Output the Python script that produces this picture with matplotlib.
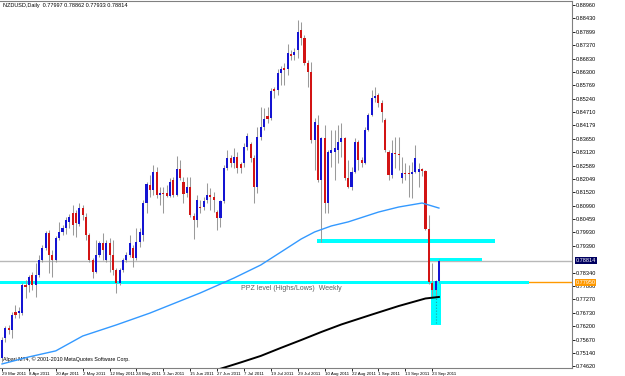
# NZDUSD daily chart (MT4 style) with PPZ zones and two moving averages

import numpy as np
import matplotlib.pyplot as plt
from matplotlib.patches import Rectangle
import matplotlib.transforms as mtransforms

plt.rcParams['font.family'] = ['Liberation Sans', 'DejaVu Sans']

# --- 1. Data ---

# date labels on the time axis (every 8th bar)
date_labels = ['29 Mar 2011', '8 Apr 2011', '20 Apr 2011', '2 May 2011', '12 May 2011',
               '24 May 2011', '3 Jun 2011', '15 Jun 2011', '27 Jun 2011', '7 Jul 2011',
               '19 Jul 2011', '29 Jul 2011', '10 Aug 2011', '22 Aug 2011', '1 Sep 2011',
               '13 Sep 2011', '23 Sep 2011']
date_bars = [0, 8, 16, 24, 32, 40, 48, 56, 64, 72, 80, 88, 96, 104, 112, 120, 128]

opens = [0.7495, 0.7574, 0.7614, 0.7606, 0.7677, 0.7673, 0.7673, 0.7785, 0.7785, 0.7824,
         0.7785, 0.7824, 0.7884, 0.7931, 0.7991, 0.7904, 0.7884, 0.7971, 0.7995, 0.8011,
         0.8035, 0.8070, 0.8070, 0.8027, 0.8090, 0.8054, 0.7983, 0.7884, 0.7836, 0.7904,
         0.7951, 0.7884, 0.7951, 0.7904, 0.7844, 0.7793, 0.7844, 0.7884, 0.7904, 0.7931,
         0.7892, 0.7955, 0.7983, 0.8110, 0.8182, 0.8162, 0.8233, 0.8142, 0.8150, 0.8150,
         0.8138, 0.8201, 0.8142, 0.8245, 0.8194, 0.8150, 0.8174, 0.8058, 0.8043, 0.8094,
         0.8094, 0.8122, 0.8142, 0.8134, 0.8074, 0.8050, 0.8118, 0.8249, 0.8289, 0.8269,
         0.8293, 0.8265, 0.8269, 0.8332, 0.8344, 0.8289, 0.8174, 0.8372, 0.8412, 0.8455,
         0.8448, 0.8563, 0.8559, 0.8626, 0.8646, 0.8642, 0.8702, 0.8698, 0.8718, 0.8797,
         0.8765, 0.8666, 0.8630, 0.8360, 0.8420, 0.8201, 0.8368, 0.8110, 0.8309, 0.8313,
         0.8321, 0.8352, 0.8368, 0.8209, 0.8174, 0.8233, 0.8352, 0.8281, 0.8269, 0.8400,
         0.8459, 0.8527, 0.8539, 0.8507, 0.8440, 0.8313, 0.8221, 0.8309, 0.8305, 0.8209,
         0.8229, 0.8229, 0.8225, 0.8233, 0.8233, 0.8245, 0.8237, 0.8007, 0.7793, 0.7765,
         0.77997]
highs = [0.7578, 0.7622, 0.7626, 0.7677, 0.7705, 0.7697, 0.7793, 0.7804, 0.7824, 0.7836,
         0.7872, 0.7904, 0.7943, 0.7999, 0.8003, 0.7924, 0.7979, 0.8035, 0.8023, 0.8054,
         0.8066, 0.8102, 0.8082, 0.8110, 0.8102, 0.8070, 0.7991, 0.7892, 0.7963, 0.7959,
         0.7991, 0.7963, 0.7971, 0.7963, 0.7852, 0.7852, 0.7892, 0.7916, 0.7983, 0.7943,
         0.8011, 0.8011, 0.8122, 0.8194, 0.8221, 0.8261, 0.8253, 0.8174, 0.8174, 0.8182,
         0.8209, 0.8213, 0.8297, 0.8281, 0.8213, 0.8213, 0.8213, 0.8070, 0.8142, 0.8122,
         0.8134, 0.8190, 0.8170, 0.8154, 0.8082, 0.8122, 0.8261, 0.8321, 0.8301, 0.8328,
         0.8313, 0.8273, 0.8348, 0.8388, 0.8352, 0.8301, 0.8412, 0.8491, 0.8487, 0.8491,
         0.8567, 0.8571, 0.8642, 0.8654, 0.8666, 0.8741, 0.8718, 0.8725, 0.8837, 0.8829,
         0.8777, 0.8678, 0.8670, 0.8448, 0.8459, 0.8372, 0.8420, 0.8321, 0.8400, 0.8400,
         0.8420, 0.8428, 0.8372, 0.8281, 0.8253, 0.8368, 0.8360, 0.8293, 0.8412, 0.8467,
         0.8559, 0.8571, 0.8547, 0.8519, 0.8448, 0.8321, 0.8360, 0.8372, 0.8372, 0.8293,
         0.8269, 0.8261, 0.8273, 0.8340, 0.8269, 0.8249, 0.8241, 0.8062, 0.7872, 0.7804,
         0.78862]
lows = [0.7479, 0.7558, 0.7590, 0.7574, 0.7653, 0.7653, 0.7665, 0.7733, 0.7757, 0.7765,
        0.7737, 0.7816, 0.7876, 0.7924, 0.7832, 0.7816, 0.7876, 0.7963, 0.7983, 0.7987,
        0.8011, 0.7983, 0.7975, 0.8019, 0.8043, 0.7963, 0.7876, 0.7812, 0.7832, 0.7896,
        0.7884, 0.7876, 0.7836, 0.7824, 0.7753, 0.7785, 0.7836, 0.7876, 0.7896, 0.7856,
        0.7884, 0.7935, 0.7959, 0.8070, 0.8134, 0.8142, 0.8130, 0.8102, 0.8070, 0.8134,
        0.8134, 0.8134, 0.8138, 0.8201, 0.8110, 0.8134, 0.8054, 0.7967, 0.8015, 0.8070,
        0.8082, 0.8110, 0.8082, 0.8074, 0.8003, 0.8015, 0.8110, 0.8241, 0.8253, 0.8249,
        0.8229, 0.8229, 0.8253, 0.8321, 0.8273, 0.8110, 0.8150, 0.8360, 0.8400, 0.8428,
        0.8440, 0.8527, 0.8539, 0.8579, 0.8579, 0.8618, 0.8678, 0.8678, 0.8686, 0.8737,
        0.8658, 0.8571, 0.8348, 0.8241, 0.8194, 0.7955, 0.8070, 0.8070, 0.8253, 0.8201,
        0.8269, 0.8293, 0.8201, 0.8170, 0.8162, 0.8229, 0.8241, 0.8253, 0.8265, 0.8396,
        0.8455, 0.8511, 0.8491, 0.8432, 0.8313, 0.8201, 0.8209, 0.8249, 0.8241, 0.8190,
        0.8201, 0.8134, 0.8130, 0.8229, 0.8174, 0.8217, 0.8003, 0.7789, 0.7737, 0.7741,
        0.77933]
closes = [0.7566, 0.7614, 0.7606, 0.7665, 0.7665, 0.7681, 0.7785, 0.7777, 0.7816, 0.7785,
          0.7824, 0.7884, 0.7931, 0.7991, 0.7904, 0.7884, 0.7971, 0.7995, 0.8011, 0.8043,
          0.8054, 0.8023, 0.8031, 0.8090, 0.8062, 0.7983, 0.7884, 0.7836, 0.7904, 0.7951,
          0.7924, 0.7951, 0.7904, 0.7844, 0.7793, 0.7844, 0.7884, 0.7904, 0.7951, 0.7892,
          0.7955, 0.7995, 0.8110, 0.8186, 0.8162, 0.8233, 0.8142, 0.8150, 0.8146, 0.8138,
          0.8194, 0.8142, 0.8245, 0.8209, 0.8146, 0.8174, 0.8062, 0.8043, 0.8122, 0.8090,
          0.8118, 0.8142, 0.8134, 0.8122, 0.8050, 0.8118, 0.8249, 0.8289, 0.8269, 0.8293,
          0.8249, 0.8249, 0.8332, 0.8376, 0.8289, 0.8174, 0.8372, 0.8412, 0.8444, 0.8444,
          0.8555, 0.8555, 0.8626, 0.8642, 0.8638, 0.8706, 0.8694, 0.8710, 0.8789, 0.8765,
          0.8666, 0.8630, 0.8360, 0.8432, 0.8201, 0.8368, 0.8110, 0.8313, 0.8321, 0.8328,
          0.8352, 0.8368, 0.8209, 0.8174, 0.8233, 0.8352, 0.8281, 0.8269, 0.8400, 0.8459,
          0.8527, 0.8535, 0.8507, 0.8471, 0.8321, 0.8221, 0.8309, 0.8305, 0.8301, 0.8229,
          0.8225, 0.8225, 0.8233, 0.8289, 0.8245, 0.8237, 0.8007, 0.7797, 0.7765, 0.7800,
          0.78814]

# moving averages at a few bars
ma_blue_bars = [0, 8, 16, 24, 34, 44, 59, 69, 77, 84, 89, 93, 98, 103, 112, 118, 125, 130]
ma_blue = [0.7471, 0.7499, 0.7523, 0.7582, 0.7626, 0.7673, 0.7753, 0.7812, 0.7864,
           0.7924, 0.7967, 0.7995, 0.8019, 0.8035, 0.8074, 0.8094, 0.8110, 0.8090]
ma_black_bars = [58, 65, 71, 77, 83, 89, 95, 101, 110, 118, 126, 130]
ma_black = [0.7433, 0.7452, 0.7477, 0.7503, 0.7535, 0.7566, 0.7598, 0.7628, 0.7667,
            0.7701, 0.7731, 0.7737]

# price axis labels
price_ticks = [0.88960, 0.88430, 0.87899, 0.87370, 0.86830, 0.86300, 0.85769, 0.85240,
               0.84710, 0.84179, 0.83650, 0.83120, 0.82589, 0.82049, 0.81520, 0.80990,
               0.80459, 0.79930, 0.79390, 0.78340, 0.77800, 0.77270, 0.76730, 0.76200,
               0.75670, 0.75140, 0.74620]

last_price = 0.78814
ppz_level = 0.77950

# zones drawn on the chart: (first bar, last bar, low price, high price)
zone_bars_start = [-1, 93.7, 127.4, 127.7]
zone_bars_end = [156.8, 146.7, 142.9, 130.7]
zone_low = [0.7787, 0.7951, 0.7880, 0.7626]
zone_high = [0.7802, 0.7967, 0.7891, 0.7793]

# --- 2. Figure ---

fig = plt.figure(figsize=(6.25, 3.76), dpi=100)
ax = fig.add_axes([0.0, 8 / 376, 572 / 625, 367 / 376])
ax.set_xlim(-0.6, 169.6)
ax.set_ylim(0.7455, 0.8912)

# horizontal lines and zones (background)
ax.axhline(ppz_level, color='#ff9900', lw=1.0, zorder=1)
ax.axhline(last_price, color='#b8b8b8', lw=1.0, zorder=1)
for x0, x1, lo, hi in zip(zone_bars_start, zone_bars_end, zone_low, zone_high):
    ax.add_patch(Rectangle((x0, lo), x1 - x0, hi - lo, facecolor='#00ffff',
                           edgecolor='none', zorder=2))
ax.vlines(129.2, zone_low[3] + 0.0008, zone_high[3], colors='#20a0a0',
          linestyles=':', lw=0.8, zorder=2)

# candles
x = np.arange(len(opens))
o = np.array(opens)
c = np.array(closes)
up = c >= o
ax.vlines(x, lows, highs, colors='#9a9a9a', lw=0.75, zorder=3)
body_bot = np.minimum(o, c)
body_h = np.maximum(np.abs(c - o), 0.00015)
ax.bar(x[up], body_h[up], bottom=body_bot[up], width=0.62, color='#1414d2', lw=0, zorder=4)
ax.bar(x[~up], body_h[~up], bottom=body_bot[~up], width=0.62, color='#d21414', lw=0, zorder=4)

# moving averages
ax.plot(ma_blue_bars, ma_blue, color='#3399ff', lw=1.0, zorder=5)
ax.plot(ma_black_bars, ma_black, color='black', lw=1.4, zorder=5)

# texts
ax.text(0.005, 0.995, 'NZDUSD,Daily  0.77997 0.78862 0.77933 0.78814', transform=ax.transAxes,
        ha='left', va='top', fontsize=4, color='black')
ax.text(0.005, 0.015, 'Alpari MT4, \u00a9 2001-2010 MetaQuotes Software Corp.',
        transform=ax.transAxes, ha='left', va='bottom', fontsize=3.8, color='black')
ax.text(71.1, 0.7784, 'PPZ level (Highs/Lows)  Weekly', ha='left', va='top',
        fontsize=5, color='#606060', zorder=6)

# --- 3. Axes styling ---

ax.yaxis.tick_right()
ax.set_yticks(price_ticks)
ax.set_yticklabels([f'{p:.5f}' for p in price_ticks])
ax.tick_params(axis='y', labelsize=4, length=2, pad=1, width=0.6, colors='black')
ax.set_xticks(date_bars)
ax.set_xticklabels(date_labels, ha='left')
ax.tick_params(axis='x', labelsize=3.2, length=2, pad=1, width=0.6)

# price boxes on the right axis
trans = mtransforms.blended_transform_factory(ax.transAxes, ax.transData)
ax.text(1.006, last_price, f'{last_price:.5f}', transform=trans, ha='left', va='center',
        fontsize=4, color='white', bbox=dict(facecolor='#000060', edgecolor='none', pad=0.6),
        clip_on=False)
ax.text(1.006, ppz_level, f'{ppz_level:.5f}', transform=trans, ha='left', va='center',
        fontsize=4, color='white', bbox=dict(facecolor='#ff9900', edgecolor='none', pad=0.6),
        clip_on=False)

for side in ['left']:
    ax.spines[side].set_visible(False)
for side in ['right', 'bottom', 'top']:
    ax.spines[side].set_color('#808080')
    ax.spines[side].set_linewidth(0.8)

fig.savefig('out.png', dpi=100)
